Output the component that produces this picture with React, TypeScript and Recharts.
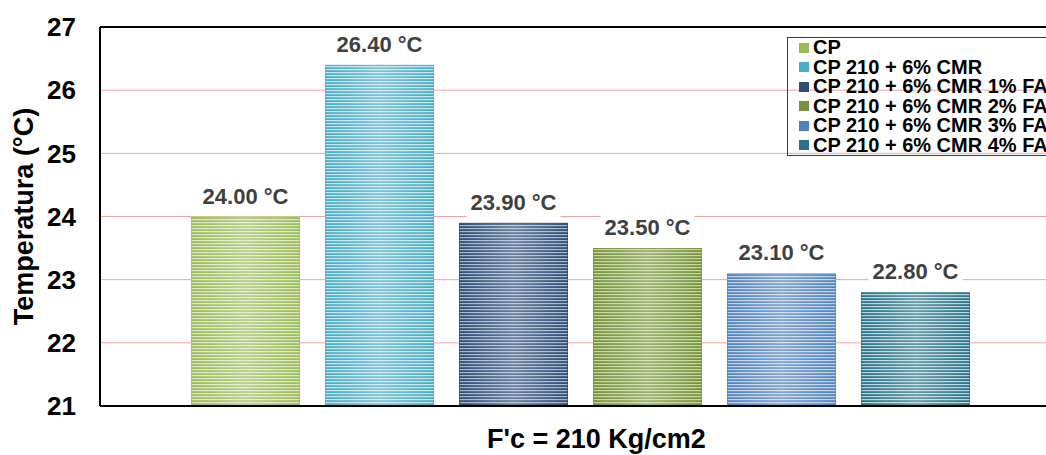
import React from 'react';
import { BarChart, Bar, XAxis, YAxis, CartesianGrid, ReferenceLine, LabelList, Legend } from 'recharts';

const category = "F'c = 210 Kg/cm2";
const seriesKeys = ['cp', 'cmr', 'fa1', 'fa2', 'fa3', 'fa4'];
const seriesNames = [
  'CP',
  'CP 210 + 6% CMR',
  'CP 210 + 6% CMR 1% FA',
  'CP 210 + 6% CMR 2% FA',
  'CP 210 + 6% CMR 3% FA',
  'CP 210 + 6% CMR 4% FA',
];
const seriesValues = [24.0, 26.4, 23.9, 23.5, 23.1, 22.8];
const baseColors = ['#9BBB59', '#4BACC6', '#2C4D75', '#76923C', '#4F81BD', '#2B7185'];
const lightColors = ['#DCE8C4', '#C4E5EE', '#A6B6CB', '#C6D79F', '#C3D4EA', '#B4D6DE'];
const yTicks = [21, 22, 23, 24, 25, 26, 27];

const data = [
  seriesKeys.reduce((row: any, k, i) => {
    row[k] = seriesValues[i];
    return row;
  }, { name: category } as any),
];

const FONT = '"Liberation Sans", Arial, sans-serif';

const StripedBar = (props: any) => {
  const { x, y, width, height, idx } = props;
  if (!width || !height) return null;
  return (
    <g>
      <rect x={x} y={y} width={width} height={height} fill={`url(#pat${idx})`} />
      <rect x={x} y={y} width={width} height={height} fill="url(#sheen)" />
      <rect x={x + 0.5} y={y + 0.5} width={width - 1} height={height - 1} fill="none" stroke={baseColors[idx]} strokeOpacity={0.6} strokeWidth={1} />
    </g>
  );
};

const BarLabel = (props: any) => {
  const vb = props.viewBox || {};
  const x = props.x ?? vb.x;
  const y = props.y ?? vb.y;
  const width = props.width ?? vb.width;
  const value = props.value;
  if (x == null || y == null || value == null) return null;
  const cx = x + width / 2;
  const text = `${Number(value).toFixed(2)} °C`;
  const w = 94;
  return (
    <g>
      <rect x={cx - w / 2} y={y - 35} width={w} height={30} fill="#ffffff" />
      <text x={cx} y={y - 13} textAnchor="middle" fontSize={22} fontWeight="bold" fill="#404040" fontFamily={FONT}>
        {text}
      </text>
    </g>
  );
};

const LegendBox = () => (
  <div
    style={{
      border: '1.5px solid #3a3a3a',
      width: 300,
      height: 119,
      boxSizing: 'border-box',
      padding: '0 0 0 11px',
      fontFamily: FONT,
      fontWeight: 'bold',
      fontSize: 20,
      color: '#000',
      background: 'transparent',
    }}
  >
    {seriesNames.map((n, i) => (
      <div key={n} style={{ display: 'flex', alignItems: 'center', height: 19.5, lineHeight: '19.5px', whiteSpace: 'nowrap' }}>
        <span style={{ display: 'inline-block', width: 10, height: 10, background: baseColors[i], marginRight: 4 }} />
        <span>{n}</span>
      </div>
    ))}
  </div>
);

export default function App() {
  return (
    <div style={{ position: 'absolute', left: 0, top: 0, width: 1046, height: 455, overflow: 'hidden', background: '#fff' }}>
      <BarChart
        width={1100}
        height={455}
        data={data}
        margin={{ top: 27, right: 39, bottom: 0, left: 0 }}
        barGap={25}
        barSize={109}
      >
        <defs>
          {baseColors.map((c, i) => (
            <pattern key={i} id={`pat${i}`} patternUnits="userSpaceOnUse" width={8} height={3}>
              <rect x={0} y={0} width={8} height={3} fill={c} />
              <rect x={0} y={0} width={8} height={1.2} fill={lightColors[i]} />
            </pattern>
          ))}
          <linearGradient id="sheen" x1="0" y1="0" x2="1" y2="0">
            <stop offset="0%" stopColor="#ffffff" stopOpacity={0} />
            <stop offset="50%" stopColor="#ffffff" stopOpacity={0.3} />
            <stop offset="100%" stopColor="#ffffff" stopOpacity={0} />
          </linearGradient>
        </defs>
        <CartesianGrid vertical={false} stroke="#F0A3A3" strokeWidth={1} />
        <XAxis
          dataKey="name"
          tick={false}
          tickLine={false}
          height={49}
          axisLine={{ stroke: '#000', strokeWidth: 2 }}
          label={{
            content: (p: any) => {
              const vb = p.viewBox || {};
              return (
                <text x={vb.x + vb.width / 2 + 16} y={vb.y + 42} textAnchor="middle" fontSize={27} fontWeight="bold" fill="#000" fontFamily={FONT}>
                  {category}
                </text>
              );
            },
          }}
        />
        <YAxis
          width={100}
          domain={[21, 27]}
          ticks={yTicks}
          interval={0}
          allowDataOverflow
          tickLine={false}
          tickMargin={18}
          axisLine={{ stroke: '#000', strokeWidth: 2 }}
          tick={{ fontSize: 26, fontWeight: 'bold', fill: '#000', fontFamily: FONT }}
          label={{
            content: (p: any) => {
              const vb = p.viewBox || {};
              const cy = vb.y + vb.height / 2;
              return (
                <text x={24} y={cy} transform={`rotate(-90, 24, ${cy})`} textAnchor="middle" dominantBaseline="central" fontSize={27} fontWeight="bold" fill="#000" fontFamily={FONT}>
                  Temperatura (°C)
                </text>
              );
            },
          }}
        />
        <ReferenceLine y={27} stroke="#000" strokeWidth={2} />
        <Legend
          layout="vertical"
          align="center"
          verticalAlign="middle"
          wrapperStyle={{ position: 'absolute', left: 787, top: 37, width: 300, height: 119 }}
          content={() => <LegendBox />}
        />
        {seriesKeys.map((k, i) => (
          <Bar
            key={k}
            dataKey={k}
            name={seriesNames[i]}
            fill={`url(#pat${i})`}
            isAnimationActive={false}
            shape={(p: any) => <StripedBar {...p} idx={i} />}
          >
            <LabelList dataKey={k} content={BarLabel} />
          </Bar>
        ))}
      </BarChart>
    </div>
  );
}
